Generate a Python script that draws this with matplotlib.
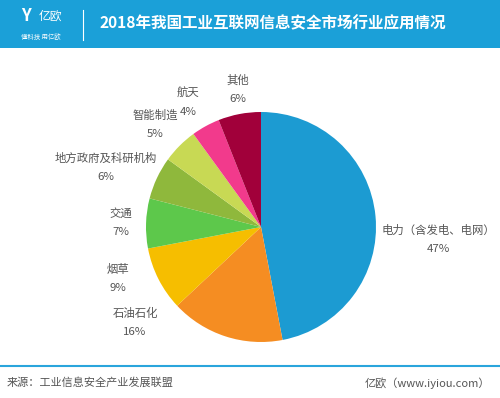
import matplotlib
matplotlib.use("Agg")
import matplotlib.pyplot as plt
from matplotlib.patches import Rectangle
from matplotlib.lines import Line2D

plt.rcParams['font.family'] = ['Noto Sans CJK SC', 'DejaVu Sans']

categories = ['电力（含发电、电网）', '石油石化', '烟草', '交通', '地方政府及科研机构', '智能制造', '航天', '其他']
values = [47, 16, 9, 7, 6, 5, 4, 6]
colors = ['#1C9BD2', '#F58D22', '#F6BE00', '#5DC84B', '#8FB83C', '#C8D954', '#F23A8C', '#A1003A']
title = '2018年我国工业互联网信息安全市场行业应用情况'
source = '来源：工业信息安全产业发展联盟'
credit = '亿欧（www.iyiou.com）'

W, H = 500, 398
fig = plt.figure(figsize=(W / 100, H / 100), dpi=100)
fig.patch.set_facecolor('white')

def fx(x):
    return x / W

def fy(y):
    return 1 - y / H

# header bar
fig.patches.append(Rectangle((0, fy(48)), 1, 48 / H, transform=fig.transFigure,
                             facecolor='#1BA0D8', edgecolor='none', zorder=0))
fig.text(fx(100), fy(23), title, color='white', fontsize=11.2, fontweight='bold',
         va='center', ha='left')
fig.text(fx(26), fy(16), 'Y', color='white', fontsize=12, fontweight='bold', va='center', ha='center')
fig.text(fx(50), fy(16), '亿欧', color='white', fontsize=8.5, va='center', ha='center')
fig.text(fx(41), fy(37), '懂科技 用亿欧', color='white', fontsize=4.6, va='center', ha='center')
fig.lines.append(Line2D([fx(83), fx(83)], [fy(10), fy(40)], transform=fig.transFigure,
                        color='white', lw=0.8))

# footer
fig.lines.append(Line2D([0, 1], [fy(366), fy(366)], transform=fig.transFigure,
                        color='#2AA5DC', lw=1.5))
fig.text(fx(7), fy(383), source, color='#555555', fontsize=8, va='center', ha='left')
fig.text(fx(490), fy(383), credit, color='#555555', fontsize=8, va='center', ha='right')

# pie
cx, cy, r = 261, 227, 115
ax = fig.add_axes([fx(cx - r), fy(cy + r), 2 * r / W, 2 * r / H])
ax.pie(values, colors=colors, startangle=90, counterclock=False,
       wedgeprops=dict(linewidth=0, edgecolor='none'))
ax.set_xlim(-1, 1)
ax.set_ylim(-1, 1)
ax.set_aspect('auto')
ax.axis('off')

# label positions (pixel centers of the two label lines)
label_pos = [(438, 230), (135, 313), (118, 269), (121, 213), (106, 158), (155, 115), (188, 93), (238, 80)]
for name, v, (lx, ly) in zip(categories, values, label_pos):
    fig.text(fx(lx), fy(ly), name, color='#555555', fontsize=8.2, va='center', ha='center')
    fig.text(fx(lx), fy(ly + 19), f'{v}%', color='#555555', fontsize=8.2, va='center', ha='center')

fig.savefig('out.png', dpi=100)
